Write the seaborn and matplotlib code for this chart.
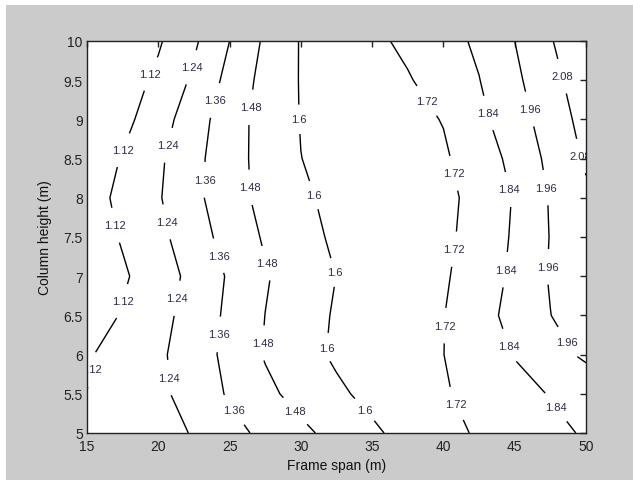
import numpy as np
import matplotlib
matplotlib.use("Agg")
import matplotlib.pyplot as plt
from matplotlib.patches import Rectangle
import seaborn as sns

# ---- data ----
frame_span = [15, 17.5, 20, 22.5, 25, 27.5, 30, 32.5, 35, 37.5, 40, 42.5, 45, 47.5, 50]
column_height = [5, 5.5, 6, 6.5, 7, 7.5, 8, 8.5, 9, 9.5, 10]

z_h5_0 = [1.125, 1.150, 1.181, 1.251, 1.321, 1.389, 1.454, 1.518, 1.582, 1.636, 1.686, 1.733, 1.771, 1.810, 1.852]
z_h5_5 = [1.121, 1.169, 1.216, 1.286, 1.374, 1.452, 1.520, 1.581, 1.629, 1.669, 1.710, 1.754, 1.799, 1.846, 1.876]
z_h6_0 = [1.109, 1.164, 1.220, 1.299, 1.393, 1.489, 1.561, 1.616, 1.650, 1.685, 1.719, 1.782, 1.846, 1.914, 1.982]
z_h6_5 = [1.056, 1.129, 1.202, 1.287, 1.385, 1.481, 1.552, 1.611, 1.647, 1.682, 1.717, 1.796, 1.877, 1.958, 2.040]
z_h7_0 = [1.023, 1.104, 1.185, 1.273, 1.374, 1.470, 1.538, 1.601, 1.637, 1.672, 1.707, 1.774, 1.865, 1.969, 2.030]
z_h7_5 = [1.052, 1.131, 1.210, 1.306, 1.406, 1.493, 1.567, 1.616, 1.644, 1.673, 1.701, 1.755, 1.857, 1.964, 2.040]
z_h8_0 = [1.068, 1.149, 1.230, 1.331, 1.431, 1.515, 1.586, 1.621, 1.647, 1.674, 1.700, 1.745, 1.850, 1.969, 2.060]
z_h8_5 = [1.040, 1.128, 1.220, 1.327, 1.432, 1.522, 1.599, 1.627, 1.654, 1.680, 1.707, 1.772, 1.876, 1.988, 2.095]
z_h9_0 = [1.040, 1.085, 1.188, 1.305, 1.426, 1.525, 1.604, 1.633, 1.663, 1.692, 1.724, 1.812, 1.909, 2.014, 2.121]
z_h9_5 = [1.030, 1.060, 1.145, 1.260, 1.396, 1.519, 1.606, 1.641, 1.676, 1.711, 1.770, 1.837, 1.936, 2.041, 2.149]
z_h10_0 = [1.020, 1.060, 1.106, 1.222, 1.360, 1.499, 1.607, 1.651, 1.695, 1.744, 1.797, 1.860, 1.960, 2.071, 2.182]

contour_levels = [1.12, 1.24, 1.36, 1.48, 1.60, 1.72, 1.84, 1.96, 2.08]

x_ticks = [15, 20, 25, 30, 35, 40, 45, 50]
y_ticks = [5, 5.5, 6, 6.5, 7, 7.5, 8, 8.5, 9, 9.5, 10]

# label anchor spots (annotation placement, snapped to nearest contour)
label_spots = [
    (19.6, 9.57), (17.5, 8.61), (17.0, 7.65), (17.5, 6.68), (15.6, 5.80),
    (22.4, 9.66), (20.7, 8.67), (20.5, 7.69), (21.6, 6.71), (21.0, 5.71),
    (23.8, 9.25), (23.2, 8.23), (24.2, 7.26), (24.1, 6.26), (25.2, 5.28),
    (26.2, 9.16), (26.1, 8.13), (27.5, 7.16), (27.1, 6.15), (29.6, 5.28),
    (29.6, 9.00), (30.5, 8.01), (32.4, 7.05), (31.2, 6.10), (34.3, 5.27),
    (39.1, 9.27), (41.4, 8.34), (41.3, 7.33), (40.0, 6.37), (40.7, 5.36),
    (43.1, 9.08), (44.7, 8.11), (44.5, 7.08), (44.5, 6.11), (47.9, 5.33),
    (46.0, 9.13), (47.2, 8.13), (47.3, 7.12), (48.7, 6.16),
    (48.3, 9.55), (49.6, 8.53),
]

Z = np.array([z_h5_0, z_h5_5, z_h6_0, z_h6_5, z_h7_0, z_h7_5,
              z_h8_0, z_h8_5, z_h9_0, z_h9_5, z_h10_0])
X, Y = np.meshgrid(frame_span, column_height)

# ---- styling ----
sns.set_style("white")
plt.rcParams["font.family"] = ["Liberation Sans", "DejaVu Sans"]

fig = plt.figure(figsize=(6.33, 4.81), dpi=100, facecolor="white")
fig.patches.append(Rectangle((6 / 633, 0), 1, 1 - 6 / 481, transform=fig.transFigure,
                             facecolor="#cbcbcb", edgecolor="none", zorder=-10))
ax = fig.add_axes([87 / 633, 1 - 434 / 481, 499 / 633, 392 / 481])
ax.set_facecolor("white")

cs = ax.contour(X, Y, Z, levels=contour_levels, colors="black", linewidths=1.0)
texts = ax.clabel(cs, inline=True, inline_spacing=7, fontsize=8, fmt="%g",
                  manual=label_spots, colors="#2a2a48")
for t in texts:
    t.set_rotation(0)

ax.set_xlim(15, 50)
ax.set_ylim(5, 10)
ax.set_xticks(x_ticks)
ax.set_yticks(y_ticks)
ax.set_xticklabels([f"{v:g}" for v in x_ticks])
ax.set_yticklabels([f"{v:g}" for v in y_ticks])
ax.tick_params(direction="in", length=4.5, width=1, colors="#222222",
               labelsize=10, top=True, right=True, pad=3)
ax.tick_params(axis="x", pad=4)
for s in ax.spines.values():
    s.set_visible(True)
    s.set_color("#222222")
    s.set_linewidth(1.0)

ax.set_xlabel("Frame span (m)", fontsize=10, color="#111111", labelpad=4)
ax.set_ylabel("Column height (m)", fontsize=10, color="#111111", labelpad=8)

fig.savefig("out.png", dpi=100, facecolor=fig.get_facecolor())
